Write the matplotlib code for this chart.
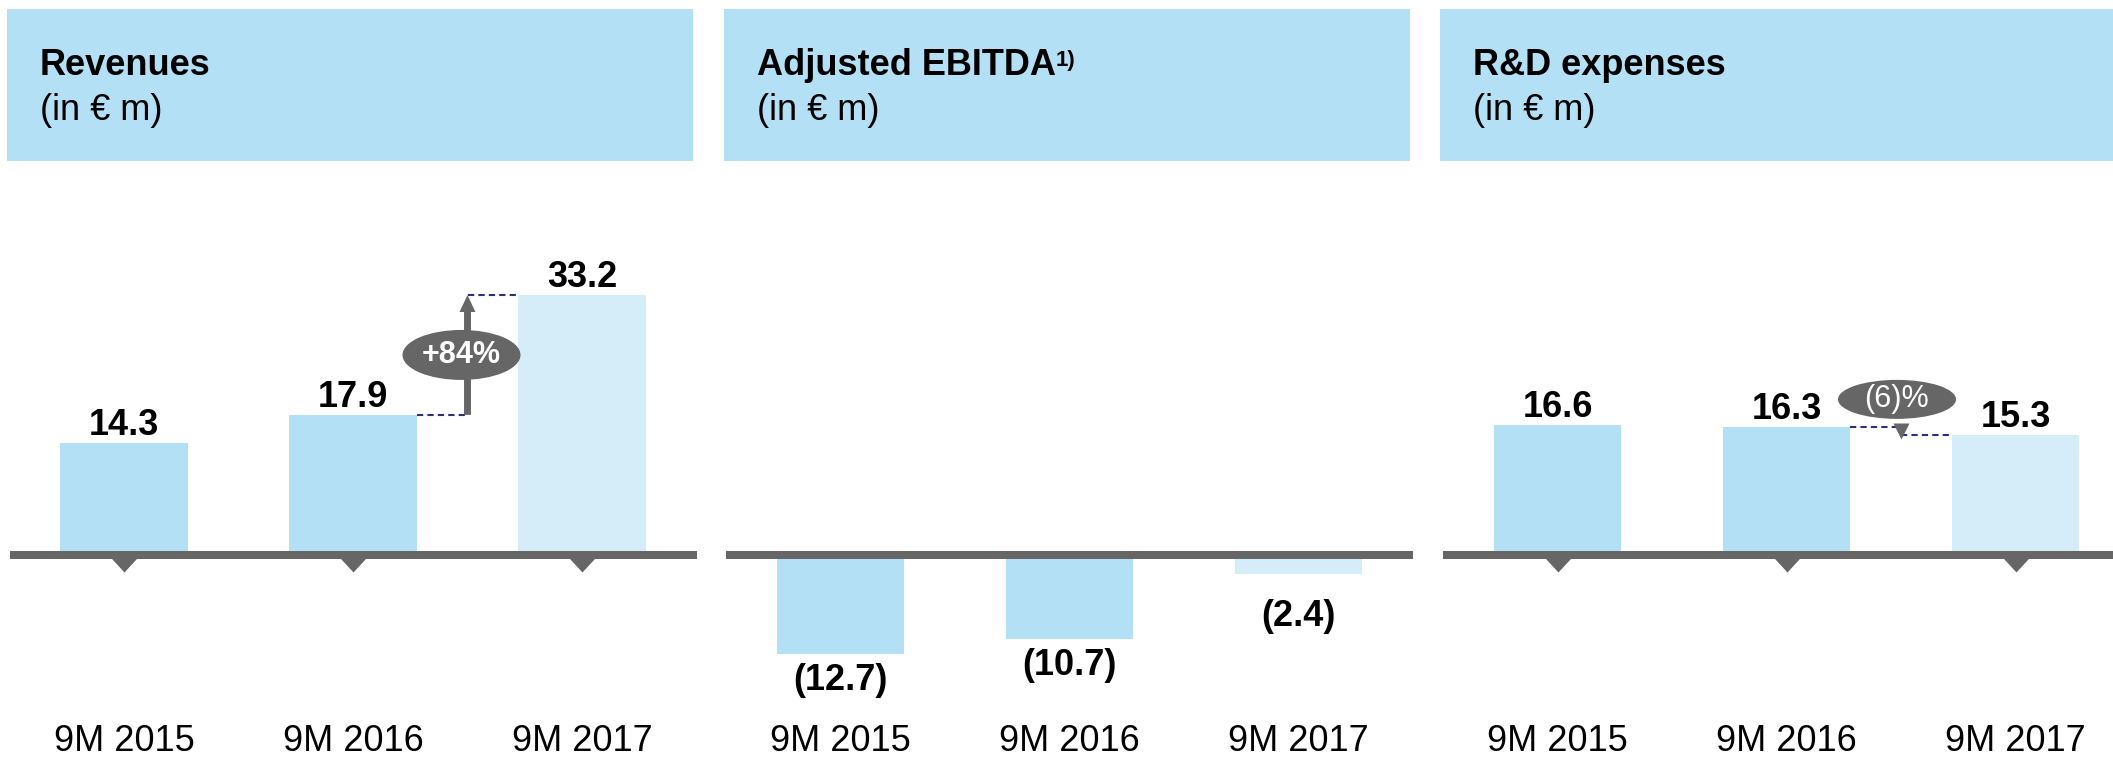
import matplotlib.pyplot as plt
from matplotlib.patches import Rectangle, Ellipse, FancyArrowPatch
from matplotlib.transforms import ScaledTranslation

categories = ['9M 2015', '9M 2016', '9M 2017']
revenues = [14.3, 17.9, 33.2]
ebitda = [-12.7, -10.7, -2.4]
rnd_expenses = [16.6, 16.3, 15.3]
titles = ['Revenues', 'Adjusted EBITDA', 'R&D expenses']
subtitle = '(in € m)'
footnote = '1)'
rev_change = '+84%'
rnd_change = '(6)%'

BLUE = '#b3e0f5'
LIGHT = '#d5ecf9'
GREY = '#666666'
NAVY = '#2b2f7a'

plt.rcParams['font.family'] = ['Liberation Sans', 'DejaVu Sans']

W, H = 2113, 759
fig = plt.figure(figsize=(W / 100, H / 100), dpi=100)

# geometry in pixels
headers = [(7, 693), (724, 1410), (1440, 2113)]
ax_left = [9.5, 726, 1443]
step = 229
ax_top, ax_bot = 170, 759
zero_px = 555
px_per_unit = 7.83
bar_w = 0.555
tick_marker = [(-15.7, 0), (15.7, 0), (0, -17)]


def make_axes(left):
    ax = fig.add_axes([left / W, 1 - ax_bot / H, 3 * step / W, (ax_bot - ax_top) / H])
    ax.axis('off')
    return ax


def fix_limits(ax):
    ax.set_xlim(-0.5, 2.5)
    ax.set_ylim(-(ax_bot - zero_px) / px_per_unit, (zero_px - ax_top) / px_per_unit)


def draw_bars(ax, values, ticks=True):
    x = list(range(len(values)))
    ax.bar(x, values, width=bar_w, color=[BLUE, BLUE, LIGHT], zorder=2)
    ax.axhline(0, color=GREY, lw=8 * 0.72, zorder=3)
    if ticks:
        ax.plot(x, [0] * len(x), ls='none', marker=tick_marker, ms=34 * 0.72,
                mfc=GREY, mec='none', zorder=3)
    for i, v in enumerate(values):
        if v >= 0:
            ax.annotate(f'{v:.1f}', xy=(i, v), xytext=(0, 8), textcoords='offset pixels',
                        ha='center', va='baseline', fontsize=26, fontweight='bold')
        else:
            ax.annotate(f'({-v:.1f})', xy=(i, min(v, -4.5)), xytext=(0, -36),
                        textcoords='offset pixels', ha='center', va='baseline',
                        fontsize=26, fontweight='bold')
    for i, c in enumerate(categories):
        ax.text(i, (ax_bot - 751) / (ax_bot - ax_top), c, transform=ax.get_xaxis_transform(),
                ha='center', va='baseline', fontsize=26)


def dashes(ax, v_from, v_to, xm):
    kw = dict(color=NAVY, lw=1.5, ls=(0, (3, 2)), zorder=4)
    ax.plot([1 + bar_w / 2, xm], [v_from, v_from], **kw)
    ax.plot([xm, 2 - bar_w / 2], [v_to, v_to], **kw)


def bubble(ax, x, y, dx, dy, w, h, text, weight):
    tr = fig.dpi_scale_trans + ScaledTranslation(x, y, ax.transData)
    ax.add_patch(Ellipse((dx / 100, dy / 100), w / 100, h / 100, transform=tr,
                         fc=GREY, ec='none', zorder=5))
    ax.annotate(text, xy=(x, y), xytext=(dx, dy), textcoords='offset pixels',
                ha='center', va='center', color='white', fontsize=22,
                fontweight=weight, zorder=6)


axes = [make_axes(l) for l in ax_left]

# header boxes
for k, ((x0, x1), title) in enumerate(zip(headers, titles)):
    fig.add_artist(Rectangle((x0 / W, 1 - 161 / H), (x1 - x0) / W, 152 / H,
                             transform=fig.transFigure, fc=BLUE, ec='none', zorder=0))
    t = fig.text((x0 + 33) / W, 1 - 75 / H, title, fontsize=26, fontweight='bold',
                 va='baseline')
    fig.text((x0 + 33) / W, 1 - 120 / H, subtitle, fontsize=26, va='baseline')
    if k == 1:
        axes[1].annotate(footnote, xy=(1, 1), xycoords=t, xytext=(0, -2),
                         textcoords='offset pixels', ha='left', va='top',
                         fontsize=16, fontweight='bold')

# Revenues
ax = axes[0]
draw_bars(ax, revenues)
dashes(ax, revenues[1], revenues[2], 1.5)
ax.add_patch(FancyArrowPatch((1.5, revenues[1]), (1.5, revenues[2]),
                             arrowstyle='simple,head_width=11.5,head_length=12.2,tail_width=5',
                             mutation_scale=1, shrinkA=0, shrinkB=0, fc=GREY, ec='none',
                             lw=0, zorder=4))
bubble(ax, 1.5, (revenues[1] + revenues[2]) / 2, -6, 0, 118, 50, rev_change, 'bold')

# Adjusted EBITDA
draw_bars(axes[1], ebitda, ticks=False)

# R&D expenses
ax = axes[2]
draw_bars(ax, rnd_expenses)
dashes(ax, rnd_expenses[1], rnd_expenses[2], 1.5)
ax.plot([1.5], [(rnd_expenses[1] + rnd_expenses[2]) / 2], ls='none', marker='v',
        ms=16 * 0.72, mfc=GREY, mec='none', zorder=5)
bubble(ax, 1.5, rnd_expenses[1], -4, 28, 118, 39, rnd_change, 'normal')

for ax in axes:
    fix_limits(ax)

plt.savefig('out.png', dpi=100)
